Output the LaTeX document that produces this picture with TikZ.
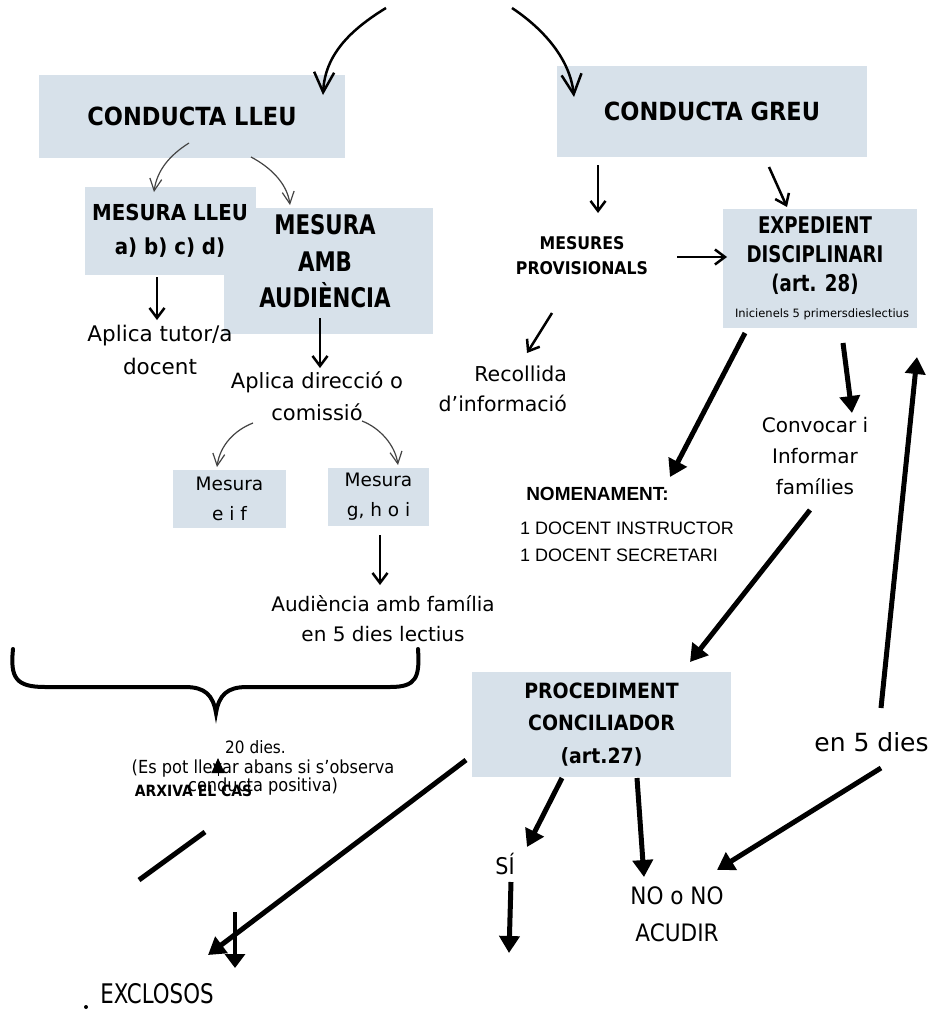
\documentclass[tikz,border=0pt]{standalone}
\usepackage{fontspec}
\setmainfont{DejaVu Sans}
\newfontfamily\estret{DejaVu Sans}[FakeStretch=0.9]
\newfontfamily\estreta{DejaVu Sans}[FakeStretch=0.79]
\newfontfamily\arial{Liberation Sans}
\usepackage{tikz}
\usetikzlibrary{arrows.meta,calc}
\definecolor{caixa}{HTML}{D7E1EA}
\definecolor{fletxa}{HTML}{444444}
\newcommand{\mida}[2]{\fontsize{#1}{#2}\selectfont}

\begin{document}
\begin{tikzpicture}[x=1pt,y=-1pt,
  caixa/.style={fill=caixa,inner sep=0pt,align=center},
  txt/.style={inner sep=0pt,align=center},
  prim/.style={fletxa,line width=1.2pt,-{Straight Barb[length=12pt,width=12pt]}},
  mitja/.style={line width=2.5pt,-{Straight Barb[length=10pt,width=15pt]}},
  gros/.style={line width=5pt,-{Triangle[length=17pt,width=20pt]}}]
\fill[white] (0,0) rectangle (931,1012);
\useasboundingbox (0,0) rectangle (931,1012);

% caixes
\node[caixa,minimum width=306pt,minimum height=83pt,font=\estret\bfseries\mida{25}{30}] (lleu) at (192,116) {CONDUCTA LLEU};
\node[caixa,minimum width=310pt,minimum height=91pt,font=\estret\bfseries\mida{25}{30}] (greu) at (712,111.5) {CONDUCTA GREU};
\node[caixa,minimum width=209pt,minimum height=126pt] (amb) at (328.5,271) {};
\node[caixa,minimum width=171pt,minimum height=88pt,font=\estret\bfseries\mida{22}{34}] (mlleu) at (170,231) {MESURA LLEU\\a) b) c) d)};
\node[txt,font=\estreta\bfseries\mida{27}{36.5}] (ambt) at ($(amb)+(-3.5,-9.4)$) {MESURA\\AMB\\AUDIÈNCIA};
\node[caixa,minimum width=113pt,minimum height=58pt,font=\mida{18.5}{30}] (eif) at (229.5,499) {Mesura\\e i f};
\node[caixa,minimum width=101pt,minimum height=58pt,font=\mida{18.5}{30}] (ghoi) at (378.5,497) {Mesura\\g, h o i};
\node[caixa,minimum width=194pt,minimum height=119pt] (exped) at (820,268.5) {};
\node[txt,font=\estreta\bfseries\mida{23}{29}] (expedt) at (815,256.1) {EXPEDIENT\\DISCIPLINARI\\(art. 28)};
\node[txt,font=\mida{11.5}{14}] (inicien) at (822,314.4) {Inicienels 5 primersdieslectius};
\node[caixa,minimum width=259pt,minimum height=105pt,font=\estret\bfseries\mida{21}{32.5}] (proc) at (601.5,724.5) {PROCEDIMENT\\CONCILIADOR\\(art.27)};

% textos
\node[txt,font=\mida{21.5}{33}] (tutor) at (160,350.4) {Aplica tutor/a\\docent};
\node[txt,font=\mida{21}{32}] (direccio) at (317,395.75) {Aplica direcció o\\comissió};
\node[txt,font=\mida{20}{30}] (audiencia) at (383,619) {Audiència amb família\\en 5 dies lectius};
\node[txt,align=right,anchor=east,font=\mida{20.5}{30}] (recollida) at (567,389.2) {Recollida\\d’informació};
\node[txt,font=\estret\bfseries\mida{17.5}{25}] (mesures) at (582,256.1) {MESURES\\PROVISIONALS};
\node[txt,font=\mida{20}{31}] (convocar) at (815,456.4) {Convocar i\\Informar\\famílies};
\node[txt,font=\arial\bfseries\mida{19}{21}] (nomenament) at (597.5,494.2) {NOMENAMENT:};
\node[txt,align=left,anchor=west,font=\arial\mida{18}{27}] (docents) at (520,542) {1 DOCENT INSTRUCTOR\\1 DOCENT SECRETARI};
\node[txt,font=\mida{25}{30}] (en5dies) at (871.5,742.5) {en 5 dies};
\node[txt,font=\estret\mida{23}{28}] (si) at (505,864.3) {SÍ};
\node[txt,font=\estret\mida{24}{37}] (noacudir) at (677,914.75) {NO o NO\\ACUDIR};
\node[txt,font=\estreta\mida{27}{30}] (exclosos) at (157,993.2) {EXCLOSOS};
\node[txt,font=\estret\mida{17}{20}] (dies20) at (255.5,746.8) {20 dies.};
\node[txt,font=\estret\mida{18}{18}] (llevar) at (263,777.3) {(Es pot llevar abans si s’observa\\conducta positiva)};
\node[txt,font=\estret\bfseries\mida{15.5}{18}] (arxiva) at (193.5,791.3) {ARXIVA EL CAS};

% corbes de dalt
\coordinate (inil) at (386,8);
\coordinate (inir) at (512,8);
\draw[line width=2.5pt,-{Straight Barb[length=20pt,width=20pt]}] (inil) .. controls +(-36,22) and +(2,-40) .. ($(lleu)+(131,-21)$);
\draw[line width=2.5pt,-{Straight Barb[length=20pt,width=20pt]}] (inir) .. controls +(33,22) and +(-4,-37) .. ($(greu)+(-138,-14.5)$);
\draw[prim] ($(lleu)+(-3,27)$) .. controls +(-19,12) and +(3,-22) .. ($(mlleu)+(-16,-39)$);
\draw[prim] ($(lleu)+(59,41)$) .. controls +(19,10) and +(-3,-22) .. ($(amb)+(-38.5,-66)$);
\draw[prim] ($(direccio)+(-64,27.25)$) .. controls +(-18,7) and +(3,-22) .. ($(eif)+(-12.5,-32)$);
\draw[prim] ($(direccio)+(45,25.25)$) .. controls +(18,7) and +(-3,-20) .. ($(ghoi)+(19.5,-32)$);

% fletxes
\draw[mitja] ($(mlleu)+(-13,46)$) -- ($(tutor)+(-3,-30.4)$);
\draw[mitja] ($(amb)+(-8.5,47)$) -- ($(direccio)+(3,-27.75)$);
\draw[mitja] ($(ghoi)+(1.5,38)$) -- ($(audiencia)+(-3,-34)$);
\draw[mitja] ($(greu)+(-114,53.5)$) -- ($(mesures)+(16,-43.1)$);
\draw[mitja] ($(greu)+(57,55.5)$) -- ($(exped)+(-33,-61.5)$);
\draw[mitja] ($(mesures)+(95,0.9)$) -- ($(exped)+(-93,-11.5)$);
\draw[mitja] ($(mesures)+(-30,56.9)$) -- ($(recollida.east)+(-40,-36.2)$);
\draw[gros] ($(exped)+(-75,64.5)$) -- ($(nomenament)+(72.5,-17.2)$);
\draw[gros] ($(exped)+(23,74.5)$) -- ($(convocar)+(37,-43.4)$);
\draw[gros] ($(convocar)+(-5,53.6)$) -- ($(proc)+(88.5,-62.5)$);
\draw[gros] ($(en5dies)+(9.5,-34.5)$) -- ($(exped)+(97,88.5)$);
\draw[gros] ($(proc)+(-135.5,35.5)$) -- ($(exclosos)+(51,-38.2)$);
\draw[gros] ($(proc)+(-39.5,53.5)$) -- ($(si)+(22,-17.3)$);
\draw[gros] ($(si)+(6,17.7)$) -- ($(si)+(4,88.7)$);
\draw[gros] ($(proc)+(35.5,53.5)$) -- ($(noacudir)+(-33,-37.75)$);
\draw[gros] ($(en5dies)+(9.5,25.5)$) -- ($(noacudir)+(40,-44.75)$);
\draw[gros,line width=4pt,-{Triangle[length=14pt,width=20pt]}] ($(exclosos)+(78,-81.2)$) -- ($(exclosos)+(78,-25.2)$);
\draw[line width=5pt] ($(arxiva)+(11.5,40.7)$) -- ($(arxiva)+(-54.5,88.7)$);
\draw[line width=1pt,-{Triangle[length=15pt,width=13pt]}] ($(dies20)+(-37.5,29)$) -- ($(dies20)+(-37.5,11.2)$);

% clau
\draw[line width=4pt,line cap=round] (13,649) .. controls (10,678) and (16,687) .. (45,687) -- (185,687)
  .. controls (205,687) and (213,695) .. (216,713) .. controls (219,695) and (227,687) .. (247,687) -- (390,687)
  .. controls (416,687) and (420,678) .. (418,649);
\fill (86,1007) circle (2);
\end{tikzpicture}
\end{document}
